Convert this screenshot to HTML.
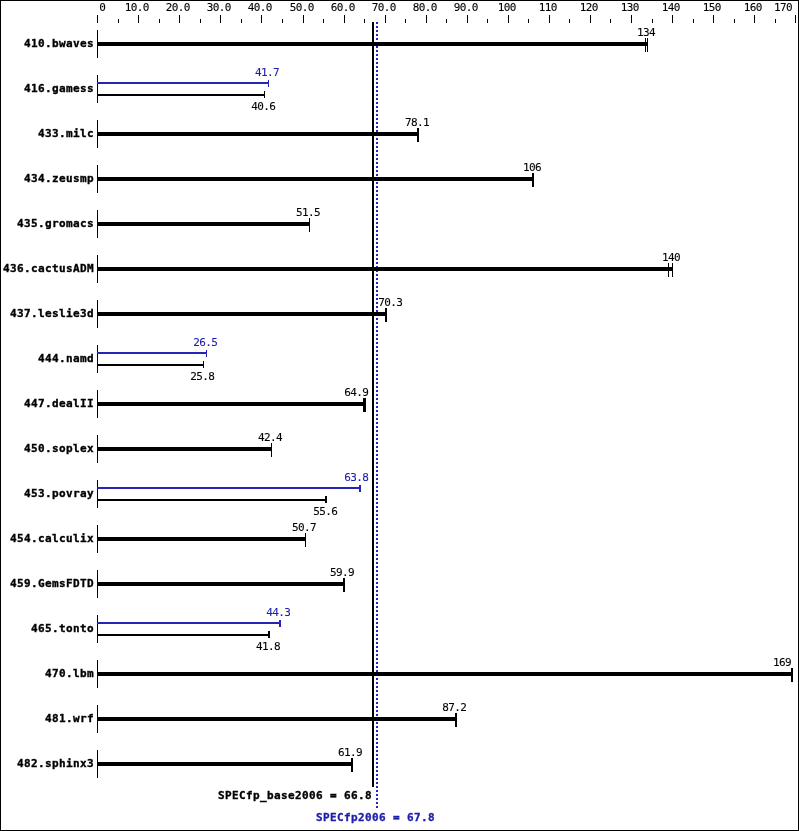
<!DOCTYPE html>
<html><head><meta charset="utf-8"><title>SPECfp2006 graph</title>
<style>
html,body{margin:0;padding:0;background:#fff}
#g{position:relative;width:799px;height:831px;background:#fff;overflow:hidden}
#f{position:absolute;left:0;top:0;width:799px;height:831px;box-sizing:border-box;border:1px solid #000}
.r{position:absolute}
.t{position:absolute;white-space:pre;line-height:16px;color:#000}
.s{font:11px "DejaVu Sans Mono","Liberation Mono",monospace;line-height:16px;letter-spacing:-0.62px;-webkit-text-stroke:0.1px currentColor}
.b{font:bold 11px "DejaVu Sans Mono","Liberation Mono",monospace;line-height:16px;letter-spacing:0.38px;-webkit-text-stroke:0.35px currentColor}
</style></head><body><div id="g">
<div class="r" style="left:97px;top:15px;width:1px;height:8px;background:#000"></div>
<div class="r" style="left:118px;top:19px;width:1px;height:4px;background:#000"></div>
<div class="t s" style="left:42.30px;top:0px;width:120px;text-align:center">0</div>
<div class="r" style="left:138px;top:15px;width:1px;height:8px;background:#000"></div>
<div class="r" style="left:159px;top:19px;width:1px;height:4px;background:#000"></div>
<div class="t s" style="left:76.80px;top:0px;width:120px;text-align:center">10.0</div>
<div class="r" style="left:179px;top:15px;width:1px;height:8px;background:#000"></div>
<div class="r" style="left:200px;top:19px;width:1px;height:4px;background:#000"></div>
<div class="t s" style="left:117.80px;top:0px;width:120px;text-align:center">20.0</div>
<div class="r" style="left:220px;top:15px;width:1px;height:8px;background:#000"></div>
<div class="r" style="left:241px;top:19px;width:1px;height:4px;background:#000"></div>
<div class="t s" style="left:158.80px;top:0px;width:120px;text-align:center">30.0</div>
<div class="r" style="left:261px;top:15px;width:1px;height:8px;background:#000"></div>
<div class="r" style="left:282px;top:19px;width:1px;height:4px;background:#000"></div>
<div class="t s" style="left:199.80px;top:0px;width:120px;text-align:center">40.0</div>
<div class="r" style="left:303px;top:15px;width:1px;height:8px;background:#000"></div>
<div class="r" style="left:323px;top:19px;width:1px;height:4px;background:#000"></div>
<div class="t s" style="left:241.80px;top:0px;width:120px;text-align:center">50.0</div>
<div class="r" style="left:344px;top:15px;width:1px;height:8px;background:#000"></div>
<div class="r" style="left:364px;top:19px;width:1px;height:4px;background:#000"></div>
<div class="t s" style="left:282.80px;top:0px;width:120px;text-align:center">60.0</div>
<div class="r" style="left:385px;top:15px;width:1px;height:8px;background:#000"></div>
<div class="r" style="left:405px;top:19px;width:1px;height:4px;background:#000"></div>
<div class="t s" style="left:323.80px;top:0px;width:120px;text-align:center">70.0</div>
<div class="r" style="left:426px;top:15px;width:1px;height:8px;background:#000"></div>
<div class="r" style="left:446px;top:19px;width:1px;height:4px;background:#000"></div>
<div class="t s" style="left:364.80px;top:0px;width:120px;text-align:center">80.0</div>
<div class="r" style="left:467px;top:15px;width:1px;height:8px;background:#000"></div>
<div class="r" style="left:487px;top:19px;width:1px;height:4px;background:#000"></div>
<div class="t s" style="left:405.80px;top:0px;width:120px;text-align:center">90.0</div>
<div class="r" style="left:508px;top:15px;width:1px;height:8px;background:#000"></div>
<div class="r" style="left:528px;top:19px;width:1px;height:4px;background:#000"></div>
<div class="t s" style="left:446.80px;top:0px;width:120px;text-align:center">100</div>
<div class="r" style="left:549px;top:15px;width:1px;height:8px;background:#000"></div>
<div class="r" style="left:569px;top:19px;width:1px;height:4px;background:#000"></div>
<div class="t s" style="left:487.80px;top:0px;width:120px;text-align:center">110</div>
<div class="r" style="left:590px;top:15px;width:1px;height:8px;background:#000"></div>
<div class="r" style="left:610px;top:19px;width:1px;height:4px;background:#000"></div>
<div class="t s" style="left:528.80px;top:0px;width:120px;text-align:center">120</div>
<div class="r" style="left:631px;top:15px;width:1px;height:8px;background:#000"></div>
<div class="r" style="left:652px;top:19px;width:1px;height:4px;background:#000"></div>
<div class="t s" style="left:569.80px;top:0px;width:120px;text-align:center">130</div>
<div class="r" style="left:672px;top:15px;width:1px;height:8px;background:#000"></div>
<div class="r" style="left:693px;top:19px;width:1px;height:4px;background:#000"></div>
<div class="t s" style="left:610.80px;top:0px;width:120px;text-align:center">140</div>
<div class="r" style="left:713px;top:15px;width:1px;height:8px;background:#000"></div>
<div class="r" style="left:734px;top:19px;width:1px;height:4px;background:#000"></div>
<div class="t s" style="left:651.80px;top:0px;width:120px;text-align:center">150</div>
<div class="r" style="left:754px;top:15px;width:1px;height:8px;background:#000"></div>
<div class="r" style="left:775px;top:19px;width:1px;height:4px;background:#000"></div>
<div class="t s" style="left:692.80px;top:0px;width:120px;text-align:center">160</div>
<div class="r" style="left:795px;top:15px;width:1px;height:8px;background:#000"></div>
<div class="t s" style="left:722.95px;top:0px;width:120px;text-align:center">170</div>
<div class="r" style="left:372px;top:22px;width:2px;height:765px;background:#000"></div>
<div class="r" style="left:376px;top:22px;width:2px;height:786px;background:repeating-linear-gradient(to bottom,#2525b5 0,#2525b5 2px,transparent 2px,transparent 4px)"></div>
<div class="r" style="left:97px;top:30px;width:1px;height:28px;background:#000"></div>
<div class="t b" style="left:-206.00px;top:36px;width:300px;text-align:right">410.bwaves</div>
<div class="r" style="left:98px;top:42px;width:550px;height:4px;background:#000"></div>
<div class="r" style="left:645px;top:38px;width:1px;height:14px;background:#000"></div>
<div class="r" style="left:647px;top:38px;width:1px;height:14px;background:#000"></div>
<div class="t s" style="left:585.95px;top:25px;width:120px;text-align:center">134</div>
<div class="r" style="left:97px;top:75px;width:1px;height:28px;background:#000"></div>
<div class="t b" style="left:-206.00px;top:81px;width:300px;text-align:right">416.gamess</div>
<div class="r" style="left:97px;top:82px;width:172px;height:2px;background:#2525b5"></div>
<div class="r" style="left:268px;top:80px;width:1px;height:7px;background:#2525b5"></div>
<div class="t s" style="left:207.10px;top:65px;width:120px;text-align:center;color:#1e1eac">41.7</div>
<div class="r" style="left:98px;top:94px;width:167px;height:2px;background:#000"></div>
<div class="r" style="left:264px;top:91px;width:1px;height:7px;background:#000"></div>
<div class="t s" style="left:203.20px;top:99px;width:120px;text-align:center">40.6</div>
<div class="r" style="left:97px;top:120px;width:1px;height:28px;background:#000"></div>
<div class="t b" style="left:-206.00px;top:126px;width:300px;text-align:right">433.milc</div>
<div class="r" style="left:98px;top:132px;width:321px;height:4px;background:#000"></div>
<div class="r" style="left:417px;top:128px;width:1px;height:14px;background:#000"></div>
<div class="r" style="left:418px;top:128px;width:1px;height:14px;background:#000"></div>
<div class="t s" style="left:357.10px;top:115px;width:120px;text-align:center">78.1</div>
<div class="r" style="left:97px;top:165px;width:1px;height:28px;background:#000"></div>
<div class="t b" style="left:-206.00px;top:171px;width:300px;text-align:right">434.zeusmp</div>
<div class="r" style="left:98px;top:177px;width:436px;height:4px;background:#000"></div>
<div class="r" style="left:532px;top:173px;width:1px;height:14px;background:#000"></div>
<div class="r" style="left:533px;top:173px;width:1px;height:14px;background:#000"></div>
<div class="t s" style="left:471.95px;top:160px;width:120px;text-align:center">106</div>
<div class="r" style="left:97px;top:210px;width:1px;height:28px;background:#000"></div>
<div class="t b" style="left:-206.00px;top:216px;width:300px;text-align:right">435.gromacs</div>
<div class="r" style="left:98px;top:222px;width:212px;height:4px;background:#000"></div>
<div class="r" style="left:309px;top:218px;width:1px;height:14px;background:#000"></div>
<div class="t s" style="left:247.95px;top:205px;width:120px;text-align:center">51.5</div>
<div class="r" style="left:97px;top:255px;width:1px;height:28px;background:#000"></div>
<div class="t b" style="left:-206.00px;top:261px;width:300px;text-align:right">436.cactusADM</div>
<div class="r" style="left:98px;top:267px;width:575px;height:4px;background:#000"></div>
<div class="r" style="left:668px;top:263px;width:1px;height:14px;background:#000"></div>
<div class="r" style="left:672px;top:263px;width:1px;height:14px;background:#000"></div>
<div class="t s" style="left:611.00px;top:250px;width:120px;text-align:center">140</div>
<div class="r" style="left:97px;top:300px;width:1px;height:28px;background:#000"></div>
<div class="t b" style="left:-206.00px;top:306px;width:300px;text-align:right">437.leslie3d</div>
<div class="r" style="left:98px;top:312px;width:289px;height:4px;background:#000"></div>
<div class="r" style="left:385px;top:308px;width:1px;height:14px;background:#000"></div>
<div class="r" style="left:386px;top:308px;width:1px;height:14px;background:#000"></div>
<div class="t s" style="left:330.20px;top:295px;width:120px;text-align:center">70.3</div>
<div class="r" style="left:97px;top:345px;width:1px;height:28px;background:#000"></div>
<div class="t b" style="left:-206.00px;top:351px;width:300px;text-align:right">444.namd</div>
<div class="r" style="left:97px;top:352px;width:110px;height:2px;background:#2525b5"></div>
<div class="r" style="left:206px;top:350px;width:1px;height:7px;background:#2525b5"></div>
<div class="t s" style="left:145.20px;top:335px;width:120px;text-align:center;color:#1e1eac">26.5</div>
<div class="r" style="left:98px;top:364px;width:106px;height:2px;background:#000"></div>
<div class="r" style="left:203px;top:361px;width:1px;height:7px;background:#000"></div>
<div class="t s" style="left:142.20px;top:369px;width:120px;text-align:center">25.8</div>
<div class="r" style="left:97px;top:390px;width:1px;height:28px;background:#000"></div>
<div class="t b" style="left:-206.00px;top:396px;width:300px;text-align:right">447.dealII</div>
<div class="r" style="left:98px;top:402px;width:268px;height:4px;background:#000"></div>
<div class="r" style="left:363px;top:398px;width:1px;height:14px;background:#000"></div>
<div class="r" style="left:364px;top:398px;width:1px;height:14px;background:#000"></div>
<div class="r" style="left:365px;top:398px;width:1px;height:14px;background:#000"></div>
<div class="t s" style="left:296.20px;top:385px;width:120px;text-align:center">64.9</div>
<div class="r" style="left:97px;top:435px;width:1px;height:28px;background:#000"></div>
<div class="t b" style="left:-206.00px;top:441px;width:300px;text-align:right">450.soplex</div>
<div class="r" style="left:98px;top:447px;width:174px;height:4px;background:#000"></div>
<div class="r" style="left:271px;top:443px;width:1px;height:14px;background:#000"></div>
<div class="t s" style="left:209.95px;top:430px;width:120px;text-align:center">42.4</div>
<div class="r" style="left:97px;top:480px;width:1px;height:28px;background:#000"></div>
<div class="t b" style="left:-206.00px;top:486px;width:300px;text-align:right">453.povray</div>
<div class="r" style="left:97px;top:487px;width:264px;height:2px;background:#2525b5"></div>
<div class="r" style="left:359px;top:485px;width:1px;height:7px;background:#2525b5"></div>
<div class="r" style="left:360px;top:485px;width:1px;height:7px;background:#2525b5"></div>
<div class="t s" style="left:296.20px;top:470px;width:120px;text-align:center;color:#1e1eac">63.8</div>
<div class="r" style="left:98px;top:499px;width:229px;height:2px;background:#000"></div>
<div class="r" style="left:325px;top:496px;width:1px;height:7px;background:#000"></div>
<div class="r" style="left:326px;top:496px;width:1px;height:7px;background:#000"></div>
<div class="t s" style="left:265.20px;top:504px;width:120px;text-align:center">55.6</div>
<div class="r" style="left:97px;top:525px;width:1px;height:28px;background:#000"></div>
<div class="t b" style="left:-206.00px;top:531px;width:300px;text-align:right">454.calculix</div>
<div class="r" style="left:98px;top:537px;width:208px;height:4px;background:#000"></div>
<div class="r" style="left:305px;top:533px;width:1px;height:14px;background:#000"></div>
<div class="t s" style="left:244.10px;top:520px;width:120px;text-align:center">50.7</div>
<div class="r" style="left:97px;top:570px;width:1px;height:28px;background:#000"></div>
<div class="t b" style="left:-206.00px;top:576px;width:300px;text-align:right">459.GemsFDTD</div>
<div class="r" style="left:98px;top:582px;width:247px;height:4px;background:#000"></div>
<div class="r" style="left:343px;top:578px;width:1px;height:14px;background:#000"></div>
<div class="r" style="left:344px;top:578px;width:1px;height:14px;background:#000"></div>
<div class="t s" style="left:282.10px;top:565px;width:120px;text-align:center">59.9</div>
<div class="r" style="left:97px;top:615px;width:1px;height:28px;background:#000"></div>
<div class="t b" style="left:-206.00px;top:621px;width:300px;text-align:right">465.tonto</div>
<div class="r" style="left:97px;top:622px;width:184px;height:2px;background:#2525b5"></div>
<div class="r" style="left:279px;top:620px;width:1px;height:7px;background:#2525b5"></div>
<div class="r" style="left:280px;top:620px;width:1px;height:7px;background:#2525b5"></div>
<div class="t s" style="left:218.20px;top:605px;width:120px;text-align:center;color:#1e1eac">44.3</div>
<div class="r" style="left:98px;top:634px;width:172px;height:2px;background:#000"></div>
<div class="r" style="left:268px;top:631px;width:1px;height:7px;background:#000"></div>
<div class="r" style="left:269px;top:631px;width:1px;height:7px;background:#000"></div>
<div class="t s" style="left:208.10px;top:639px;width:120px;text-align:center">41.8</div>
<div class="r" style="left:97px;top:660px;width:1px;height:28px;background:#000"></div>
<div class="t b" style="left:-206.00px;top:666px;width:300px;text-align:right">470.lbm</div>
<div class="r" style="left:98px;top:672px;width:695px;height:4px;background:#000"></div>
<div class="r" style="left:791px;top:668px;width:1px;height:14px;background:#000"></div>
<div class="r" style="left:792px;top:668px;width:1px;height:14px;background:#000"></div>
<div class="t s" style="left:722.10px;top:655px;width:120px;text-align:center">169</div>
<div class="r" style="left:97px;top:705px;width:1px;height:28px;background:#000"></div>
<div class="t b" style="left:-206.00px;top:711px;width:300px;text-align:right">481.wrf</div>
<div class="r" style="left:98px;top:717px;width:359px;height:4px;background:#000"></div>
<div class="r" style="left:455px;top:713px;width:1px;height:14px;background:#000"></div>
<div class="r" style="left:456px;top:713px;width:1px;height:14px;background:#000"></div>
<div class="t s" style="left:394.20px;top:700px;width:120px;text-align:center">87.2</div>
<div class="r" style="left:97px;top:750px;width:1px;height:28px;background:#000"></div>
<div class="t b" style="left:-206.00px;top:756px;width:300px;text-align:right">482.sphinx3</div>
<div class="r" style="left:98px;top:762px;width:255px;height:4px;background:#000"></div>
<div class="r" style="left:351px;top:758px;width:1px;height:14px;background:#000"></div>
<div class="r" style="left:352px;top:758px;width:1px;height:14px;background:#000"></div>
<div class="t s" style="left:290.10px;top:745px;width:120px;text-align:center">61.9</div>
<div class="t b" style="left:72.00px;top:788px;width:300px;text-align:right">SPECfp_base2006 = 66.8</div>
<div class="t b" style="left:135.00px;top:810px;width:300px;text-align:right;color:#1e1eac">SPECfp2006 = 67.8</div>
<div id="f"></div>
</div></body></html>
